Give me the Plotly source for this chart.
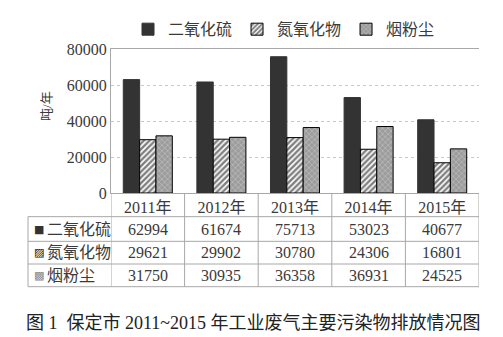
import plotly.graph_objects as go

years = ["2011年", "2012年", "2013年", "2014年", "2015年"]
series_names = ["二氧化硫", "氮氧化物", "烟粉尘"]
so2 = [62994, 61674, 75713, 53023, 40677]
nox = [29621, 29902, 30780, 24306, 16801]
dust = [31750, 30935, 36358, 36931, 24525]
y_ticks = [0, 20000, 40000, 60000, 80000]
caption = "图 1  保定市 2011~2015 年工业废气主要污染物排放情况图"

W, H = 503, 337
ML, MR, MT, MB = 111, 24, 47, 144
PW, PH = W - ML - MR, H - MT - MB

def py(p):
    """pixel row -> paper y"""
    return (H - MB - p) / PH

def px(p):
    """pixel column -> paper x"""
    return (p - ML) / PW

SERIF = "Liberation Serif, Noto Sans CJK SC, serif"
TXT = "#3a3a3a"
LINE = "#a8a8a8"

fig = go.Figure()
fig.add_trace(go.Bar(
    x=years, y=so2, name=series_names[0],
    marker=dict(color="#333333", line=dict(color="#333333", width=1)),
))
fig.add_trace(go.Bar(
    x=years, y=nox, name=series_names[1],
    marker=dict(color="white", line=dict(color="black", width=1),
                pattern=dict(shape="/", fgcolor="black", bgcolor="white",
                             size=4, solidity=0.6)),
))
fig.add_trace(go.Bar(
    x=years, y=dust, name=series_names[2],
    marker=dict(color="#a0a0a0", line=dict(color="black", width=1),
                pattern=dict(shape="x", fgcolor="#e4e4e4", bgcolor="#9c9c9c",
                             size=4, solidity=0.3)),
))

shapes = []
# table horizontal rules
for p in [217, 242, 265, 288]:
    shapes.append(dict(type="line", xref="paper", yref="paper",
                       x0=px(28), x1=1, y0=py(p), y1=py(p),
                       line=dict(color=LINE, width=1)))
# left border of the row-label column
shapes.append(dict(type="line", xref="paper", yref="paper",
                   x0=px(28), x1=px(28), y0=py(217), y1=py(288),
                   line=dict(color=LINE, width=1)))
# column borders at category boundaries
for i in range(len(years) + 1):
    shapes.append(dict(type="line", xref="x", yref="paper",
                       x0=i - 0.5, x1=i - 0.5, y0=py(193), y1=py(288),
                       line=dict(color=LINE, width=1)))

annotations = []
rows = [(series_names[0], so2, "■", "#333333", 229.5),
        (series_names[1], nox, "▨", "#111111", 253.5),
        (series_names[2], dust, "▩", "#8a8a8a", 276.5)]
for name, vals, icon, icol, p in rows:
    annotations.append(dict(xref="paper", yref="paper", x=px(32), y=py(p),
                            xanchor="left", yanchor="middle", showarrow=False,
                            text=icon, font=dict(family="DejaVu Sans", size=11, color=icol)))
    annotations.append(dict(xref="paper", yref="paper", x=px(45), y=py(p),
                            xanchor="left", yanchor="middle", showarrow=False,
                            text=name, font=dict(family=SERIF, size=16, color=TXT)))
    for yr, v in zip(years, vals):
        annotations.append(dict(xref="x", yref="paper", x=yr, y=py(p),
                                xanchor="center", yanchor="middle", showarrow=False,
                                text=str(v), font=dict(family=SERIF, size=16, color=TXT)))

annotations.append(dict(xref="paper", yref="paper", x=px(37), y=py(88),
                        textangle=-90, showarrow=False, text="吨/年",
                        font=dict(family=SERIF, size=13, color=TXT)))
annotations.append(dict(xref="paper", yref="paper", x=px(253), y=py(325),
                        xanchor="center", yanchor="middle", showarrow=False,
                        text=caption, font=dict(family=SERIF, size=18, color="#222")))

fig.update_layout(
    width=W, height=H,
    margin=dict(l=ML, r=MR, t=MT, b=MB),
    paper_bgcolor="white", plot_bgcolor="white",
    barmode="group", bargap=0.334, bargroupgap=0,
    showlegend=True,
    legend=dict(orientation="h", x=px(284), xanchor="center", y=py(27), yanchor="middle",
                font=dict(family=SERIF, size=16, color=TXT), itemwidth=30,
                bgcolor="rgba(0,0,0,0)"),
    shapes=shapes, annotations=annotations,
    xaxis=dict(showline=True, mirror=True, linecolor=LINE, linewidth=1,
               showgrid=False, ticks="", range=[-0.5, 4.5],
               tickfont=dict(family=SERIF, size=16, color=TXT)),
    yaxis=dict(range=[0, 80000], tickvals=y_ticks, tickformat="d",
               showline=True, linecolor=LINE, linewidth=1,
               showgrid=True, gridcolor="#c8c8c8", griddash="dot",
               zeroline=False, ticks="",
               tickfont=dict(family=SERIF, size=16, color=TXT)),
)

fig.write_html("out.html")
